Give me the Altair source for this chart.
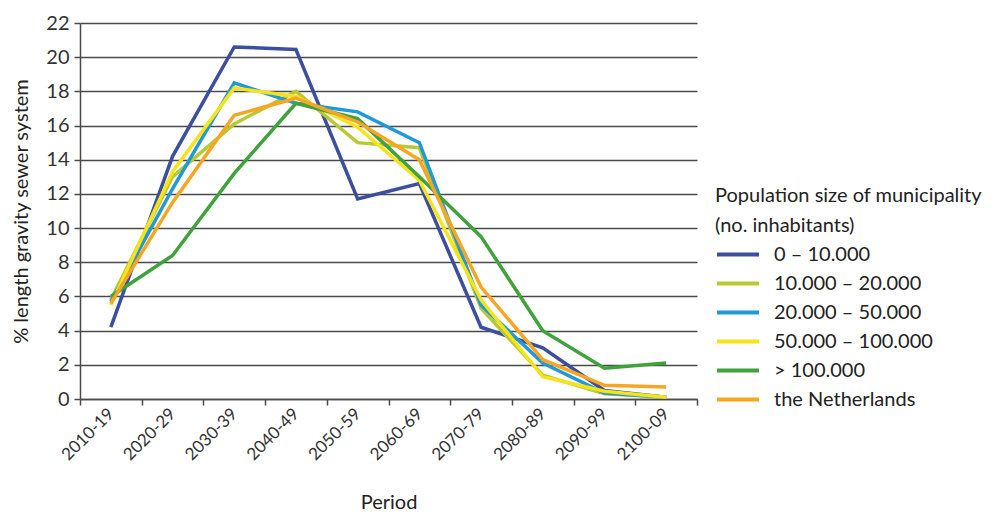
import altair as alt
import pandas as pd

periods = ["2010-19", "2020-29", "2030-39", "2040-49", "2050-59",
           "2060-69", "2070-79", "2080-89", "2090-99", "2100-09"]

groups = ["0 \u2013 10.000", "10.000 \u2013 20.000", "20.000 \u2013 50.000",
          "50.000 \u2013 100.000", "> 100.000", "the Netherlands"]

s_0_10k = [4.2, 14.2, 20.6, 20.45, 11.7, 12.6, 4.2, 3.0, 0.5, 0.1]
s_10_20k = [5.8, 13.0, 16.1, 18.0, 15.0, 14.7, 5.3, 1.4, 0.3, 0.1]
s_20_50k = [5.7, 12.3, 18.5, 17.3, 16.8, 15.0, 5.5, 2.1, 0.35, 0.1]
s_50_100k = [5.5, 13.3, 18.2, 17.7, 15.9, 12.8, 5.8, 1.3, 0.45, 0.1]
s_100k_plus = [6.0, 8.4, 13.2, 17.3, 16.4, 13.0, 9.5, 4.0, 1.8, 2.1]
s_nl = [5.6, 11.5, 16.6, 17.6, 16.2, 14.0, 6.55, 2.3, 0.8, 0.7]

series = [s_0_10k, s_10_20k, s_20_50k, s_50_100k, s_100k_plus, s_nl]
colors = ["#3C4E9E", "#B9C934", "#1F9AD6", "#F7E31A", "#3FA23C", "#F6A623"]

rows = []
for g, vals in zip(groups, series):
    for p, v in zip(periods, vals):
        rows.append({"period": p, "share": v, "group": g})
df = pd.DataFrame(rows)

FONT = "Lato"
GRID = "#4a4a4a"

chart = alt.Chart(df).mark_line(strokeWidth=3.5, strokeJoin="miter").encode(
    x=alt.X(
        "period:N",
        sort=periods,
        bandPosition=0.5,
        scale=alt.Scale(type="band", paddingInner=0, paddingOuter=0),
        axis=alt.Axis(
            title="Period",
            titleFont=FONT, titleFontSize=20, titleFontWeight="normal",
            titleColor="#222", titlePadding=30,
            labelAngle=-45, labelAlign="right", labelBaseline="middle",
            labelFont=FONT, labelFontSize=17, labelColor="#333",
            labelPadding=6,
            tickBand="extent", tickSize=6, tickColor=GRID, tickWidth=1.5,
            domainColor=GRID, domainWidth=1.5, grid=False,
        ),
    ),
    y=alt.Y(
        "share:Q",
        scale=alt.Scale(domain=[0, 22], nice=False),
        axis=alt.Axis(
            title="% length gravity sewer system",
            titleFont=FONT, titleFontSize=20, titleFontWeight="normal",
            titleColor="#222", titlePadding=14,
            values=list(range(0, 23, 2)),
            labelFont=FONT, labelFontSize=20, labelColor="#333",
            labelPadding=5,
            tickSize=6, tickColor=GRID, tickWidth=1.5,
            domainColor=GRID, domainWidth=1.5,
            grid=True, gridColor=GRID, gridWidth=1.5, gridOpacity=1,
        ),
    ),
    color=alt.Color(
        "group:N",
        sort=groups,
        scale=alt.Scale(domain=groups, range=colors),
        legend=alt.Legend(
            title=["Population size of municipality", "(no. inhabitants)"],
            orient="none", legendX=635, legendY=163,
            titleFont=FONT, titleFontSize=20, titleFontWeight="normal",
            titleColor="#222", titleLineHeight=30, titlePadding=4,
            titleLimit=400, labelLimit=300,
            labelFont=FONT, labelFontSize=20, labelColor="#222",
            labelOffset=13,
            symbolType="stroke", symbolSize=1764, symbolStrokeWidth=4,
            clipHeight=29, rowPadding=0,
        ),
    ),
    order=alt.Order("group:N"),
).properties(
    width=617,
    height=376,
    padding={"left": 80, "top": 23, "right": 300, "bottom": 114},
    autosize="none",
).configure_view(stroke=None)

chart.save("out.html", embed_options={"renderer": "svg", "actions": False})
